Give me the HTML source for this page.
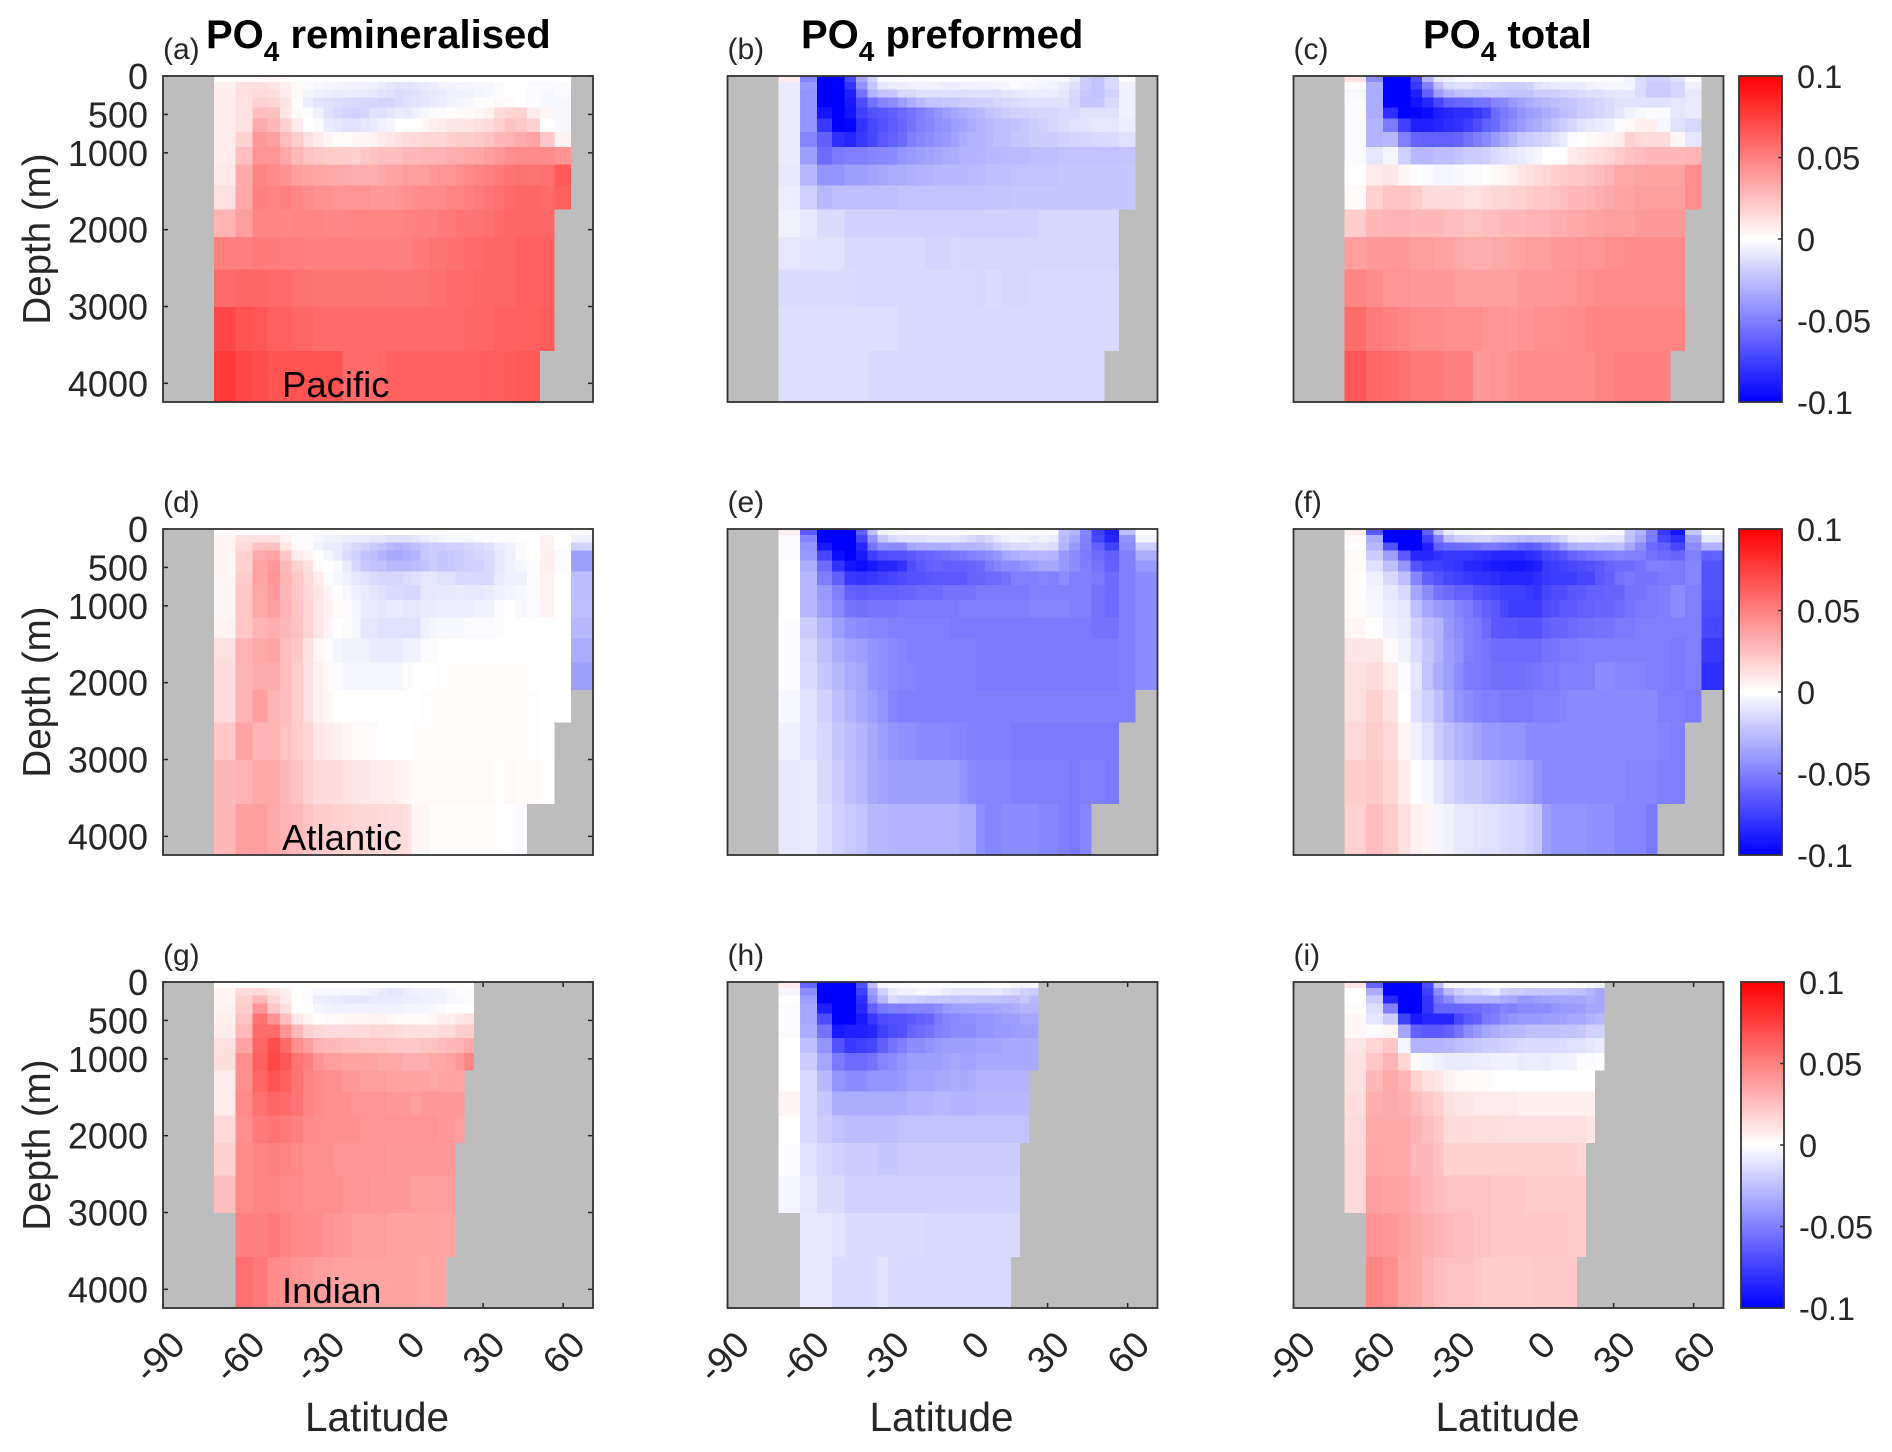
<!DOCTYPE html>
<html lang="en">
<head>
<meta charset="utf-8">
<title>PO4 anomaly sections</title>
<style>
html,body{margin:0;padding:0;background:#fff;}
svg{display:block;}
text{font-family:"Liberation Sans",Arial,sans-serif;fill:#262626;}
.title{font-weight:bold;font-size:40px;fill:#000;}
.plabel{font-size:30px;}
.basin{font-size:36.5px;fill:#000;}
.axt-y{font-size:38.5px;}
.axt-x{font-size:40.5px;}
</style>
</head>
<body>
<svg id="figure" xmlns="http://www.w3.org/2000/svg" width="1892" height="1452" viewBox="0 0 1892 1452">
<defs>
<linearGradient id="cmap" x1="0" y1="0" x2="0" y2="1">
<stop offset="0" stop-color="#ff0000"/><stop offset="0.5" stop-color="#ffffff"/><stop offset="1" stop-color="#0000ff"/>
</linearGradient>
</defs>
<g id="plots"></g>
<text class="title" x="206" y="48">PO<tspan font-size="28" dy="13">4</tspan><tspan dy="-13"> remineralised</tspan></text>
<text class="title" x="801" y="48">PO<tspan font-size="28" dy="13">4</tspan><tspan dy="-13"> preformed</tspan></text>
<text class="title" x="1423" y="48">PO<tspan font-size="28" dy="13">4</tspan><tspan dy="-13"> total</tspan></text>
<text class="basin" x="282" y="397">Pacific</text>
<text class="basin" x="282" y="850">Atlantic</text>
<text class="basin" x="282" y="1303">Indian</text>
</svg>
<script>
const _ = null;
// Latitude cell edges (degrees) and depth cell edges (metres)
const latEdges = [-70.9,-62.8,-56.5,-50.9,-46.2,-41.8,-37.5,-33.7,-29.9,-26.3,-22.8,-19.3,-15.9,-12.6,-9.4,-6.2,-3.1,0,3.2,6.5,9.7,12.8,16.3,19.7,23,26.5,30.3,34,38,42.1,46.5,51.3,56.7,63,71.2];
const depthEdges = [0,78,174,282,412,555,729,924,1154,1423,1740,2095,2521,3006,3579,4243];
const latTicks = [-90,-60,-30,0,30,60];
const depthTicks = [0,500,1000,2000,3000,4000];
const colorbarTicks = [0.1,0.05,0,-0.05,-0.1];
const colorbarLabels = ["0.1","0.05","0","-0.05","-0.1"];
const panelLetters = ["(a)","(b)","(c)","(d)","(e)","(f)","(g)","(h)","(i)"];

// Cell values in units of 0.001 (rows by depth, columns by latitude); _ or missing = land
const pacificRemin = [
[1,1,2,3,1,0,0,-1,-1,-1,-1,-1,-1,-1,-1,-1,0,0,0,0,0,0,0,0,0,0,0,0,0,0,0,0,0],
[6,12,12,10,6,2,-2,-3,-4,-4,-5,-5,-5,-6,-8,-10,-11,-11,-10,-8,-7,-5,-5,-4,-4,-3,-3,-1,0,0,-2,-2,-1],
[7,12,14,13,7,2,-4,-6,-7,-8,-7,-8,-8,-9,-11,-12,-14,-13,-12,-10,-9,-8,-6,-6,-5,-4,-3,-1,0,0,-2,-3,-2],
[8,12,18,16,11,1,-7,-11,-12,-13,-14,-15,-16,-16,-17,-17,-14,-12,-11,-10,-8,-7,-5,-4,-3,-1,1,3,2,0,-1,-3,-3],
[8,12,25,25,10,2,-1,-6,-12,-15,-17,-18,-16,-12,-12,-10,-8,-9,-6,-3,-2,-1,0,2,2,3,6,14,17,18,8,4,-3],
[8,12,33,28,18,8,0,-2,-8,-10,-12,-12,-10,-8,-5,-4,0,0,0,3,6,8,10,10,10,12,14,18,24,22,18,0,-3],
[8,18,40,38,26,20,12,8,3,1,1,3,4,5,8,10,12,14,15,16,16,16,18,20,20,22,24,28,30,33,36,22,5],
[8,25,42,42,34,28,24,22,20,20,20,18,22,24,25,25,26,28,28,30,30,30,32,32,34,35,38,40,44,45,45,45,42],
[9,33,48,46,42,38,36,35,34,34,33,32,32,32,34,36,36,38,38,38,40,42,42,44,46,48,50,52,55,56,55,56,65],
[12,34,50,48,50,47,45,43,43,42,42,42,42,40,40,40,42,43,44,46,46,46,48,48,50,52,54,56,58,60,60,58,62],
[30,38,48,48,47,48,48,48,47,47,47,48,48,48,48,48,48,49,50,50,50,52,52,54,54,55,56,58,60,60,60,60],
[50,50,52,52,51,51,50,50,50,50,50,50,50,50,50,50,50,50,52,52,54,55,56,56,58,58,60,60,60,62,62,62],
[58,60,60,58,58,56,56,55,55,55,55,55,55,55,54,55,54,54,55,55,56,56,58,58,58,60,60,60,60,62,62,62],
[72,68,66,62,62,60,60,58,58,58,58,58,58,58,58,58,58,58,58,58,58,58,58,58,60,60,60,62,62,62,62,64],
[78,72,70,68,68,68,68,68,68,68,58,58,58,58,60,62,62,62,62,62,62,62,62,62,62,62,63,63,64,65,65]
];
const pacificPreformed = [
[8,-48,-100,-100,-72,-35,-18,-4,-3,-2,-2,-2,-2,-2,-2,-2,-2,-2,-2,-2,-2,-2,-2,-2,-2,-3,-3,-3,-8,-20,-24,-15,-2],
[-8,-40,-100,-100,-80,-42,-22,-10,-7,-7,-6,-5,-6,-6,-7,-7,-6,-6,-5,-5,-4,-4,-2,-3,-3,-4,-5,-8,-12,-20,-24,-15,-6],
[-8,-42,-100,-100,-88,-55,-30,-24,-22,-15,-15,-12,-12,-12,-12,-13,-13,-12,-12,-12,-12,-10,-9,-8,-7,-7,-7,-10,-15,-22,-24,-18,-6],
[-8,-42,-100,-100,-90,-70,-55,-48,-45,-38,-32,-28,-24,-24,-22,-22,-20,-20,-18,-18,-16,-15,-14,-13,-12,-12,-12,-12,-16,-22,-22,-15,-6],
[-8,-42,-92,-100,-92,-75,-68,-66,-62,-58,-55,-50,-46,-42,-38,-35,-32,-30,-28,-24,-22,-20,-18,-18,-17,-16,-16,-14,-14,-12,-12,-12,-6],
[-8,-42,-78,-100,-98,-80,-72,-68,-64,-60,-55,-50,-48,-44,-42,-38,-36,-32,-30,-28,-26,-25,-24,-22,-20,-18,-16,-14,-12,-11,-10,-10,-7],
[-8,-48,-62,-82,-85,-78,-72,-65,-62,-58,-50,-47,-45,-42,-40,-36,-32,-30,-30,-28,-25,-25,-22,-22,-20,-20,-20,-18,-17,-16,-15,-14,-12],
[-8,-38,-58,-52,-50,-50,-48,-47,-46,-42,-40,-38,-36,-35,-33,-32,-30,-30,-29,-28,-28,-27,-27,-27,-26,-25,-25,-24,-24,-24,-24,-24,-23],
[-9,-28,-42,-42,-38,-38,-36,-35,-33,-32,-31,-30,-29,-28,-28,-28,-28,-27,-27,-25,-25,-25,-24,-24,-24,-24,-24,-22,-22,-22,-22,-22,-22],
[-7,-18,-28,-25,-25,-25,-25,-25,-25,-24,-24,-24,-24,-24,-24,-24,-24,-24,-24,-23,-23,-23,-22,-22,-22,-22,-22,-22,-22,-22,-22,-22,-22],
[-5,-10,-14,-14,-18,-18,-18,-18,-18,-18,-18,-18,-18,-18,-18,-18,-18,-18,-18,-18,-18,-18,-18,-18,-18,-16,-16,-16,-16,-16,-16,-16],
[-10,-11,-12,-12,-15,-15,-15,-15,-15,-15,-15,-15,-17,-17,-17,-15,-16,-16,-16,-16,-16,-16,-16,-16,-16,-16,-16,-16,-16,-16,-16,-16],
[-14,-14,-14,-14,-14,-15,-15,-15,-15,-15,-15,-15,-15,-15,-15,-15,-15,-15,-16,-14,-14,-16,-16,-16,-15,-15,-15,-15,-15,-15,-15,-15],
[-13,-13,-13,-13,-13,-13,-13,-13,-13,-15,-15,-15,-15,-15,-15,-15,-15,-15,-15,-15,-15,-15,-15,-15,-15,-15,-15,-15,-15,-15,-15,-15],
[-13,-13,-13,-13,-13,-13,-15,-15,-15,-15,-15,-15,-15,-15,-15,-15,-15,-15,-15,-15,-15,-15,-15,-15,-15,-15,-15,-15,-15,-15,-15]
];
const pacificTotal = [
[12,-45,-100,-100,-72,-30,-10,-6,-3,-2,-2,-1,-1,-1,-1,0,0,0,-1,-1,-1,-1,-1,-1,-1,-2,-2,-5,-14,-18,-18,-12,-2],
[0,-32,-100,-100,-78,-50,-26,-14,-12,-12,-14,-16,-18,-20,-20,-20,-18,-12,-10,-8,-8,-8,-8,-5,-4,-4,-3,-4,-14,-20,-20,-16,-6],
[-3,-33,-100,-100,-88,-62,-38,-30,-26,-24,-24,-22,-22,-22,-24,-24,-24,-20,-20,-20,-17,-16,-14,-12,-12,-10,-10,-10,-14,-20,-20,-16,-9],
[-2,-32,-100,-100,-92,-85,-72,-62,-60,-58,-55,-55,-48,-46,-40,-36,-32,-30,-28,-26,-24,-22,-20,-18,-16,-14,-12,-12,-12,-12,-12,-10,-8],
[-2,-32,-82,-100,-98,-95,-88,-85,-82,-82,-78,-72,-58,-52,-48,-42,-38,-36,-32,-30,-26,-24,-20,-18,-16,-14,-10,-5,-3,-2,-2,-10,-8],
[-2,-30,-52,-75,-88,-88,-85,-82,-80,-76,-70,-62,-58,-50,-45,-40,-35,-32,-28,-24,-20,-16,-12,-10,-8,-6,-2,3,6,6,-3,-12,-15],
[-2,-30,-28,-50,-60,-62,-62,-62,-60,-55,-50,-46,-40,-34,-28,-22,-20,-18,-16,-12,-8,-2,0,2,3,5,7,18,15,14,14,3,-10],
[-2,-10,-4,-18,-28,-28,-26,-26,-24,-20,-20,-18,-14,-12,-10,-8,-6,-4,0,0,0,8,10,12,14,16,20,24,26,28,28,28,30],
[0,8,10,4,0,-2,-4,-4,-3,-2,-1,0,2,4,6,10,12,14,16,18,20,22,22,24,26,30,34,34,36,36,36,36,44],
[2,18,24,24,20,14,14,14,14,12,12,14,16,16,18,18,20,22,22,24,26,28,28,30,32,34,36,36,38,38,38,38,44],
[20,28,30,30,28,28,28,26,26,24,24,26,26,28,28,28,30,30,30,32,32,34,34,36,36,38,38,38,40,40,40,40],
[38,40,40,40,38,38,36,36,34,32,32,32,34,34,36,36,38,38,38,40,40,40,42,42,42,44,44,45,45,46,46,46],
[48,45,42,42,40,40,40,40,38,38,38,38,38,38,38,40,40,40,40,40,42,42,44,44,46,46,46,46,46,46,46,46],
[58,52,50,48,46,46,46,44,44,44,44,42,42,42,40,42,42,44,44,44,44,46,46,48,48,48,48,48,48,48,48,48],
[66,60,58,56,52,52,52,50,50,50,40,40,42,42,44,46,46,46,46,46,46,46,46,46,48,48,50,50,50,50,50]
];
const atlanticRemin = [
[0,0,0,0,0,0,0,0,0,0,0,0,0,0,0,0,0,0,0,0,0,0,0,0,0,0,0,0,0,0,0,0,0,-1],
[4,12,12,12,5,-1,-2,-3,-6,-6,-7,-8,-8,-10,-10,-12,-12,-12,-10,-8,-6,-4,-3,-3,-3,-2,-2,-1,-1,0,0,5,0,-6],
[4,15,24,24,10,2,1,-5,-8,-8,-12,-15,-18,-22,-24,-28,-30,-28,-25,-22,-20,-20,-18,-18,-16,-15,-12,-8,-5,-2,0,5,0,-18],
[4,18,33,36,22,8,4,0,-4,-8,-14,-18,-24,-25,-30,-34,-34,-32,-30,-22,-20,-22,-22,-20,-18,-16,-15,-10,-6,-2,0,6,-2,-38],
[4,18,36,40,28,18,12,2,0,-2,-8,-16,-22,-24,-24,-28,-28,-28,-26,-24,-20,-22,-22,-20,-18,-18,-15,-10,-6,-3,-1,6,-1,-38],
[3,20,36,42,30,22,14,8,-1,-3,-6,-10,-12,-14,-16,-16,-16,-14,-12,-10,-10,-12,-12,-15,-15,-15,-15,-8,-6,-6,-1,5,0,-26],
[3,22,34,40,28,22,15,10,4,0,-3,-6,-8,-10,-12,-14,-14,-16,-16,-10,-10,-9,-9,-8,-10,-10,-8,-6,-4,-3,-1,5,0,-26],
[3,22,34,38,30,24,16,10,5,2,-2,-3,-8,-8,-10,-8,-8,-10,-10,-8,-8,-7,-7,-7,-7,-5,-5,-2,0,-3,-2,5,0,-25],
[5,22,30,32,28,24,17,10,4,0,-1,-3,-10,-10,-12,-12,-12,-12,-12,-6,-4,-3,-3,-3,-2,-2,-2,-1,0,0,0,0,0,-28],
[12,30,34,36,26,22,12,4,1,-4,-5,-5,-5,-8,-8,-8,-8,-5,-5,-2,-2,0,0,0,0,0,0,0,0,0,0,0,0,-33],
[14,30,33,33,26,20,12,6,2,-1,-4,-4,-4,-4,-4,-4,-4,-2,0,0,0,1,1,1,1,1,1,1,1,1,0,0,0,-38],
[14,30,38,30,26,20,12,6,3,0,0,0,0,0,0,0,0,0,0,1,1,1,1,1,1,1,1,1,1,1,1,0,0],
[22,36,30,30,24,20,16,10,8,6,4,2,2,2,0,0,0,0,1,1,1,1,1,1,1,1,1,1,1,1,1,0],
[28,30,34,34,28,24,18,14,14,14,12,10,10,8,8,7,5,4,2,2,2,2,2,2,2,2,2,1,3,2,2,1],
[28,38,38,34,30,28,24,20,20,18,18,16,16,16,15,14,14,12,3,3,1,1,1,1,1,1,1,1,0,-2]
];
const atlanticPreformed = [
[6,-65,-100,-100,-100,-62,-25,-5,-3,-3,-2,-2,-2,-2,-2,-2,-1,-1,-1,-1,-1,-1,-1,-1,-1,-1,-2,-25,-30,-48,-75,-88,-25,0],
[-2,-48,-100,-100,-100,-72,-42,-22,-15,-12,-12,-12,-10,-10,-10,-10,-12,-15,-18,-15,-8,-5,-4,-5,-7,-5,-8,-28,-35,-50,-72,-85,-42,-4],
[-2,-42,-90,-100,-100,-85,-55,-45,-45,-45,-35,-33,-33,-33,-32,-30,-30,-30,-28,-25,-20,-16,-14,-14,-12,-12,-14,-30,-40,-50,-62,-75,-45,-20],
[-2,-40,-72,-95,-100,-90,-75,-70,-68,-68,-65,-62,-60,-58,-56,-54,-52,-50,-48,-45,-42,-35,-32,-30,-30,-28,-30,-40,-45,-52,-58,-62,-50,-32],
[0,-32,-58,-80,-92,-95,-90,-85,-85,-80,-70,-65,-62,-60,-62,-62,-62,-60,-58,-52,-48,-45,-45,-42,-38,-35,-35,-40,-45,-50,-55,-62,-50,-40],
[0,-28,-50,-62,-78,-80,-78,-75,-72,-70,-68,-68,-66,-65,-65,-65,-65,-60,-60,-58,-58,-55,-50,-50,-50,-48,-50,-45,-50,-50,-52,-58,-50,-45],
[0,-28,-40,-50,-62,-64,-62,-62,-62,-60,-60,-58,-58,-58,-55,-55,-55,-55,-52,-52,-52,-52,-52,-52,-50,-50,-50,-50,-50,-50,-55,-58,-50,-45],
[0,-28,-38,-46,-54,-56,-54,-54,-54,-52,-52,-52,-52,-52,-52,-52,-50,-50,-50,-50,-50,-50,-50,-50,-48,-48,-48,-48,-50,-50,-55,-58,-50,-45],
[-1,-20,-30,-38,-44,-46,-48,-48,-50,-50,-50,-50,-50,-50,-50,-52,-52,-52,-52,-52,-52,-52,-52,-52,-52,-52,-52,-52,-52,-52,-55,-55,-50,-45],
[-1,-16,-25,-32,-36,-38,-42,-44,-46,-48,-50,-50,-50,-50,-50,-50,-50,-50,-52,-52,-52,-52,-52,-52,-52,-52,-52,-52,-52,-52,-52,-52,-50,-45],
[-1,-14,-22,-28,-33,-35,-42,-44,-46,-48,-48,-50,-50,-50,-50,-50,-50,-50,-52,-52,-52,-52,-52,-52,-52,-52,-52,-52,-52,-52,-52,-52,-50,-45],
[-3,-12,-18,-25,-30,-34,-38,-42,-48,-50,-50,-50,-50,-50,-50,-50,-50,-50,-50,-50,-50,-50,-50,-50,-50,-50,-50,-50,-50,-50,-50,-50,-50],
[-6,-12,-16,-22,-26,-30,-34,-38,-42,-44,-44,-46,-46,-46,-46,-48,-48,-50,-50,-50,-50,-50,-52,-52,-52,-52,-52,-52,-52,-52,-52,-52],
[-9,-8,-15,-20,-25,-28,-34,-36,-38,-38,-38,-38,-38,-38,-38,-38,-42,-46,-48,-48,-48,-48,-50,-50,-50,-50,-50,-50,-52,-50,-50,-52],
[-9,-8,-13,-18,-21,-24,-28,-28,-30,-30,-30,-30,-30,-30,-30,-30,-33,-33,-44,-48,-48,-45,-45,-45,-45,-48,-48,-50,-52,-48]
];
const atlanticTotal = [
[6,-65,-100,-100,-100,-62,-24,-8,-4,-3,-3,-2,-2,-2,-1,-1,-1,-1,-1,-1,-1,-1,-1,-1,-1,-1,-2,-22,-30,-50,-78,-92,-22,0],
[2,-33,-100,-100,-100,-75,-50,-25,-20,-18,-16,-16,-20,-22,-24,-26,-28,-26,-25,-20,-15,-8,-6,-6,-8,-10,-10,-25,-35,-52,-72,-82,-38,-8],
[0,-28,-68,-100,-100,-88,-62,-58,-58,-56,-55,-52,-52,-55,-58,-62,-65,-62,-55,-50,-40,-32,-30,-30,-28,-28,-25,-35,-45,-58,-62,-72,-45,-30],
[2,-20,-38,-65,-85,-85,-80,-78,-78,-78,-80,-82,-85,-85,-85,-85,-82,-80,-72,-70,-68,-62,-58,-55,-52,-50,-48,-50,-50,-55,-58,-60,-50,-62],
[2,-12,-25,-42,-68,-75,-75,-78,-80,-85,-85,-88,-90,-90,-92,-92,-90,-88,-78,-76,-74,-72,-70,-68,-65,-60,-58,-58,-55,-50,-50,-52,-48,-68],
[1,-6,-15,-25,-48,-62,-68,-72,-75,-78,-80,-80,-82,-85,-85,-85,-85,-82,-78,-76,-76,-76,-72,-72,-65,-62,-55,-52,-55,-55,-52,-52,-48,-68],
[1,-4,-10,-15,-35,-45,-55,-58,-62,-62,-68,-70,-72,-75,-75,-75,-78,-80,-72,-70,-70,-66,-65,-62,-62,-60,-60,-55,-55,-52,-50,-45,-50,-68],
[1,-3,-7,-10,-25,-35,-40,-42,-48,-52,-58,-62,-65,-72,-76,-76,-76,-76,-70,-68,-65,-65,-62,-62,-60,-60,-58,-55,-52,-52,-50,-45,-50,-70],
[4,0,-5,-8,-18,-26,-30,-40,-45,-50,-52,-58,-65,-66,-66,-68,-68,-68,-62,-60,-60,-58,-56,-56,-55,-55,-52,-52,-50,-50,-50,-50,-50,-72],
[10,10,2,-5,-14,-22,-30,-38,-42,-50,-52,-54,-58,-58,-58,-58,-58,-58,-55,-54,-52,-52,-50,-50,-50,-50,-50,-50,-50,-50,-50,-52,-50,-78],
[12,14,8,-2,-10,-24,-32,-38,-45,-52,-52,-54,-56,-56,-56,-56,-55,-54,-52,-52,-50,-50,-50,-50,-45,-45,-48,-48,-48,-50,-50,-52,-50,-82],
[12,18,12,0,-12,-18,-25,-35,-42,-45,-48,-50,-50,-52,-52,-52,-52,-50,-50,-50,-48,-46,-46,-46,-46,-46,-46,-46,-46,-46,-50,-50,-52],
[15,20,15,4,-6,-12,-20,-25,-30,-32,-36,-40,-40,-42,-42,-42,-46,-46,-46,-46,-46,-46,-46,-46,-46,-46,-46,-46,-46,-46,-48,-50],
[20,22,16,8,0,-3,-10,-16,-20,-22,-22,-26,-28,-30,-32,-34,-36,-42,-46,-46,-46,-46,-46,-46,-46,-46,-46,-48,-48,-48,-50,-50],
[18,26,20,12,6,4,-4,-6,-9,-10,-11,-12,-12,-14,-15,-15,-18,-22,-38,-42,-42,-42,-42,-44,-44,-44,-48,-48,-48,-52]
];
const indianRemin = [
[1,0,0,0,0,0,0,0,0,0,0,0,0,0,0,0,0,0,0,0,0,0,0,0,0],
[4,14,14,10,6,0,-2,-3,-3,-3,-3,-3,-4,-6,-8,-10,-10,-7,-6,-5,-5,-5,-3,-2,-1],
[4,18,28,15,8,0,-2,-7,-7,-8,-10,-10,-10,-8,-8,-8,-8,-7,-7,-6,-6,-5,-3,-3,-1],
[5,20,42,22,12,0,0,-4,-5,-6,-6,-5,-5,-5,-5,-5,-5,-4,-4,-4,-3,-2,0,0,0],
[6,24,55,42,26,10,4,0,2,2,3,4,4,5,5,3,2,2,2,2,3,6,6,10,12],
[8,28,58,58,42,28,18,15,14,14,14,14,14,16,16,16,14,12,12,12,12,14,14,20,20],
[12,36,60,70,58,44,38,30,28,28,26,26,24,24,24,22,22,22,22,24,24,26,28,30,34],
[13,44,62,72,66,55,50,42,38,38,36,36,36,36,34,34,34,32,32,32,34,34,36,40,48],
[8,44,60,68,62,54,48,46,44,44,40,40,38,38,38,36,36,36,36,36,34,36,36,36],
[8,46,56,60,58,54,48,46,44,44,44,42,42,42,42,40,40,40,38,40,40,40,40,40],
[15,44,52,54,52,50,46,44,44,44,44,44,42,42,42,42,42,42,42,42,42,40,40,38],
[18,46,48,50,48,46,44,44,44,42,42,42,42,42,42,40,40,40,40,40,40,40,40],
[26,46,48,48,46,46,44,44,44,44,42,42,42,40,40,40,40,40,38,38,38,38,38],
[_,50,50,52,48,46,46,44,42,40,40,38,38,38,38,36,36,36,36,36,36,36,36],
[_,56,52,46,44,42,40,38,38,37,37,36,36,36,36,36,36,36,36,34,36,36]
];
const indianPreformed = [
[8,-60,-100,-100,-100,-68,-25,-3,-2,-2,-1,-1,-1,-1,-1,-2,-2,-2,-2,-1,-1,-1,-3,-4,-4],
[-4,-45,-100,-100,-100,-75,-38,-18,-8,-6,-6,-3,-4,-5,-8,-10,-10,-10,-10,-10,-8,-12,-14,-18,-20],
[0,-38,-100,-100,-100,-82,-45,-28,-15,-18,-18,-20,-22,-22,-22,-24,-22,-22,-24,-24,-24,-25,-25,-22,-28],
[-1,-35,-88,-100,-100,-85,-62,-52,-50,-50,-48,-48,-48,-45,-40,-38,-38,-36,-36,-36,-35,-34,-32,-30,-30],
[-1,-35,-70,-100,-100,-90,-78,-70,-68,-68,-65,-62,-60,-52,-48,-46,-44,-44,-42,-42,-40,-38,-38,-35,-35],
[-1,-32,-55,-90,-88,-88,-85,-75,-70,-68,-60,-58,-55,-50,-48,-45,-45,-45,-42,-42,-40,-40,-38,-38,-38],
[0,-25,-42,-68,-78,-75,-72,-62,-55,-50,-45,-45,-42,-40,-38,-38,-38,-38,-36,-36,-36,-34,-34,-34,-34],
[0,-20,-35,-52,-58,-58,-55,-48,-45,-42,-38,-38,-38,-38,-36,-34,-36,-36,-34,-34,-34,-34,-34,-34,-34],
[0,-15,-28,-42,-45,-45,-42,-42,-42,-40,-36,-36,-36,-34,-34,-32,-34,-32,-30,-30,-30,-30,-30,-30],
[5,-15,-22,-32,-32,-32,-32,-32,-32,-32,-30,-30,-30,-28,-28,-30,-30,-30,-28,-28,-28,-28,-28,-28],
[0,-15,-20,-24,-26,-26,-26,-26,-26,-24,-24,-24,-24,-24,-24,-24,-24,-24,-24,-24,-24,-24,-24,-24],
[-1,-12,-16,-18,-20,-20,-20,-22,-22,-20,-20,-20,-20,-20,-20,-20,-20,-20,-20,-20,-20,-20,-20],
[-4,-10,-14,-14,-18,-18,-18,-18,-18,-18,-18,-18,-18,-18,-18,-18,-18,-18,-18,-18,-18,-18,-18],
[_,-9,-10,-11,-14,-14,-14,-14,-14,-14,-14,-14,-15,-15,-15,-15,-15,-15,-15,-15,-15,-15,-15],
[_,-10,-10,-14,-14,-14,-14,-11,-14,-15,-15,-15,-15,-15,-15,-15,-15,-15,-15,-15,-15,-15]
];
const indianTotal = [
[10,-60,-100,-100,-100,-70,-25,-4,-3,-3,-2,-1,-1,-1,-1,-1,-1,-1,-1,-1,-1,-1,-2,-4,-6],
[0,-33,-100,-100,-100,-75,-45,-28,-20,-15,-15,-12,-10,-18,-20,-20,-22,-22,-22,-22,-22,-24,-26,-30,-35],
[0,-20,-85,-100,-100,-80,-55,-45,-32,-30,-30,-30,-30,-33,-35,-40,-40,-38,-36,-35,-35,-35,-35,-32,-35],
[1,-13,-50,-100,-100,-80,-60,-60,-60,-58,-58,-55,-52,-48,-50,-46,-46,-45,-45,-42,-40,-40,-38,-35,-35],
[3,-10,-20,-75,-90,-85,-85,-85,-72,-65,-62,-52,-50,-45,-42,-40,-40,-40,-38,-38,-36,-34,-34,-30,-28],
[3,-2,4,-35,-62,-65,-65,-62,-55,-45,-40,-35,-32,-30,-28,-28,-25,-25,-25,-25,-24,-24,-22,-18,-18],
[10,16,22,-4,-30,-30,-30,-28,-26,-24,-22,-20,-20,-18,-17,-15,-14,-14,-14,-14,-14,-12,-12,-10,-8],
[11,22,30,16,2,-3,-6,-8,-8,-8,-7,-7,-6,-6,-6,-8,-7,-7,-8,-6,-6,-5,-2,-1,0],
[11,28,34,30,18,12,10,5,3,2,2,2,1,0,0,0,0,0,0,0,0,0,0,0],
[13,32,34,32,26,22,18,12,10,10,8,8,8,8,8,6,6,6,6,6,6,6,6,6],
[14,34,34,34,30,26,22,14,14,14,13,13,13,12,12,12,12,12,12,12,12,12,12,10],
[15,35,34,34,28,28,24,18,18,18,18,18,18,18,18,18,18,18,18,18,18,18,16],
[15,38,36,36,32,28,26,24,24,24,24,24,22,22,22,22,20,20,20,20,20,20,20],
[_,42,40,38,34,32,30,28,26,26,24,24,22,22,22,22,22,22,22,22,22,20,20],
[_,48,44,36,34,30,26,24,24,24,22,20,20,20,20,20,20,21,21,21,21,21]
];
const panelGrids = [pacificRemin,pacificPreformed,pacificTotal,atlanticRemin,atlanticPreformed,atlanticTotal,indianRemin,indianPreformed,indianTotal];
const panelNames = ["pacific-remineralised","pacific-preformed","pacific-total","atlantic-remineralised","atlantic-preformed","atlantic-total","indian-remineralised","indian-preformed","indian-total"];

// Layout
const columnLefts = [163,727.5,1293.5];
const rowTops = [76,529,982];
const plotW = 430, plotH = 326;
const latMin = -90, latMax = 71.2, depthMax = 4243;
const colorbarLefts = [1739,1739,1741];
const colorbarW = 43;
const SVGNS = "http://www.w3.org/2000/svg";
const root = document.getElementById("plots");

function xScale(lat, left){ return left + (lat - latMin) / (latMax - latMin) * plotW; }
function yScale(depth, top){ return top + depth / depthMax * plotH; }
function cbScale(v, top){ return top + (0.1 - v) / 0.2 * plotH; }
function valueColor(v){
  const t = Math.min(1, Math.abs(v) / 100);
  const c = Math.round(255 * (1 - t));
  return v >= 0 ? "rgb(255," + c + "," + c + ")" : "rgb(" + c + "," + c + ",255)";
}
function make(tag, parent, attrs){
  const el = document.createElementNS(SVGNS, tag);
  for (const k in attrs) el.setAttribute(k, attrs[k]);
  parent.appendChild(el);
  return el;
}

panelGrids.forEach(function(grid, p){
  const col = p % 3, row = Math.floor(p / 3);
  const left = columnLefts[col], top = rowTops[row];
  const g = make("g", root, {});
  
  

  const bg = make("rect", g, {x:left, y:top, width:plotW, height:plotH, fill:"#bdbdbd"});
  
  

  // Ticks sit under the cells, so ocean cells hide them as in the reference
  if (row === 2) {
    latTicks.forEach(function(t){
      const x = xScale(t, left);
      const a = make("line", g, {x1:x, x2:x, y1:top, y2:top+5, stroke:"#262626", "stroke-width":1.5});
      
      
      const b = make("line", g, {x1:x, x2:x, y1:top+plotH, y2:top+plotH-5, stroke:"#262626", "stroke-width":1.5});
      
      
    });
  }
  if (col === 0) {
    depthTicks.forEach(function(d){
      const y = yScale(d, top);
      const a = make("line", g, {x1:left, x2:left+5, y1:y, y2:y, stroke:"#262626", "stroke-width":1.5});
      
      
      const b = make("line", g, {x1:left+plotW, x2:left+plotW-5, y1:y, y2:y, stroke:"#262626", "stroke-width":1.5});
      
      
      const lab = make("text", g, {x:left-15, y:y+13, "text-anchor":"end", "font-size":36});
      lab.textContent = String(d);
      
      
    });
  }

  const cells = make("g", g, {"shape-rendering":"crispEdges"});
  
  
  grid.forEach(function(vals, r){
    vals.forEach(function(v, c){
      if (typeof v !== "number") return;
      const x0 = xScale(latEdges[c], left), x1 = xScale(latEdges[c+1], left);
      const y0 = yScale(depthEdges[r], top), y1 = yScale(depthEdges[r+1], top);
      const cell = make("rect", cells, {x:x0, y:y0, width:x1-x0, height:y1-y0, fill:valueColor(v)});
      
      
    });
  });

  const frame = make("rect", g, {x:left, y:top, width:plotW, height:plotH, fill:"none", stroke:"#333333", "stroke-width":1.8});
  
  

  const letter = make("text", g, {x:left, y:top-17, "class":"plabel"});
  letter.textContent = panelLetters[p];
  
  

  if (col === 0) {
    const yt = make("text", g, {"class":"axt-y", "text-anchor":"middle", transform:"translate(50," + (top+plotH/2) + ") rotate(-90)"});
    yt.textContent = "Depth (m)";
    
    
  }
  if (row === 2) {
    latTicks.forEach(function(t){
      const x = xScale(t, left);
      const lab = make("text", g, {"text-anchor":"end", "font-size":37, transform:"translate(" + (x+24) + "," + (top+plotH+39) + ") rotate(-45)"});
      lab.textContent = String(t);
      
      
    });
    const xt = make("text", g, {"class":"axt-x", "text-anchor":"middle", x:left+plotW/2-1, y:1431});
    xt.textContent = "Latitude";
    
    
  }

  if (col === 2) {
    const cbx = colorbarLefts[row];
    const cb = make("g", g, {});
    
    
    const bar = make("rect", cb, {x:cbx, y:top, width:colorbarW, height:plotH, fill:"url(#cmap)", stroke:"#333333", "stroke-width":1.8});
    
    
    colorbarTicks.forEach(function(v, i){
      const y = cbScale(v, top);
      if (i > 0 && i < colorbarTicks.length - 1) {
        const tk = make("line", cb, {x1:cbx+colorbarW-4, x2:cbx+colorbarW, y1:y, y2:y, stroke:"#333333", "stroke-width":1.5});
        
        
      }
      const lab = make("text", cb, {x:cbx+58, y:y+12, "font-size":32.5});
      lab.textContent = colorbarLabels[i];
      
      
    });
  }
});
</script>
</body>
</html>
